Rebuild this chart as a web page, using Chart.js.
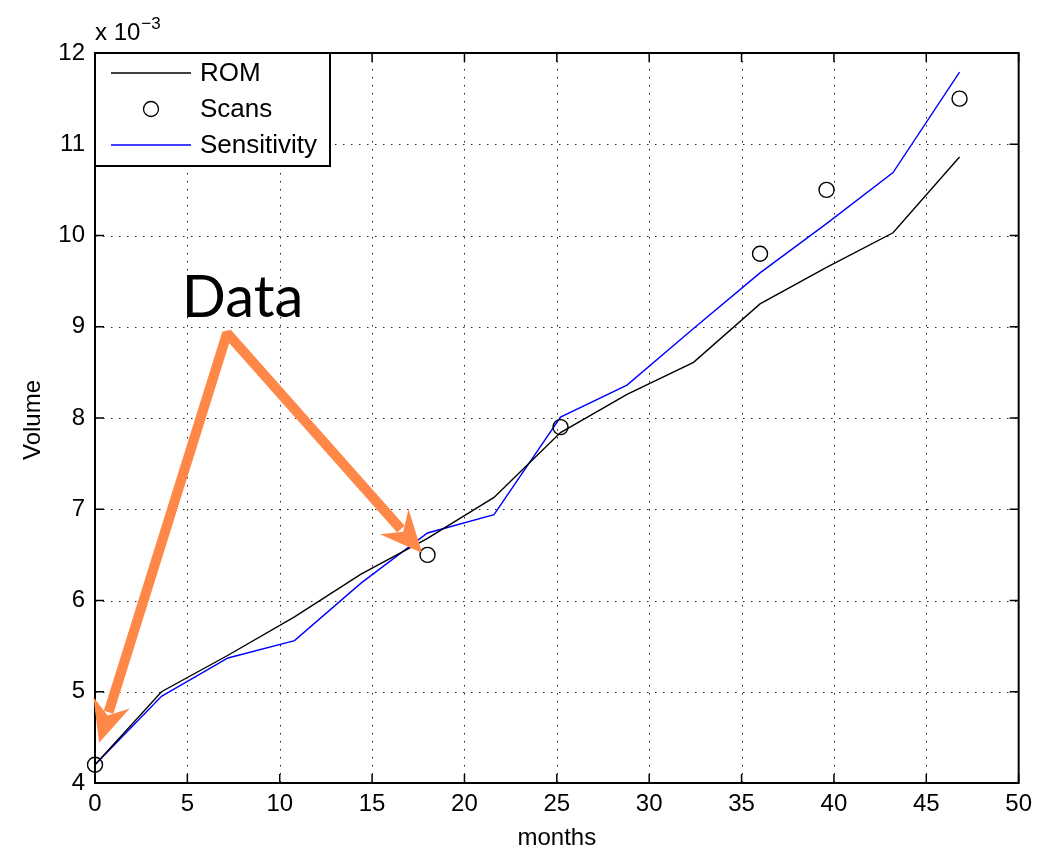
<!DOCTYPE html>
<html>
<head>
<meta charset="utf-8">
<title>Volume vs months</title>
<script src="https://cdn.jsdelivr.net/npm/chart.js@4.4.1/dist/chart.umd.min.js"></script>
<style>
  html, body { margin: 0; padding: 0; background: #fff; }
  #wrap { width: 1039px; height: 851px; }
</style>
</head>
<body>
<div id="wrap"><canvas id="chart" width="1039" height="851"></canvas></div>
<script>
// Volumes are in units of 10^-3 (the axis carries the "x 10^-3" multiplier)
const months = [0, 3.6, 7.2, 10.8, 14.4, 18, 21.6, 25.2, 28.8, 32.4, 36, 39.6, 43.2, 46.8];
const romVolume = [4.2, 5.0, 5.40, 5.82, 6.29, 6.68, 7.13, 7.84, 8.26, 8.61, 9.25, 9.65, 10.03, 10.86];
const sensitivityVolume = [4.2, 4.95, 5.37, 5.56, 6.19, 6.74, 6.94, 8.01, 8.36, 8.98, 9.59, 10.13, 10.69, 11.79];
const scanMonths = [0, 18, 25.2, 36, 39.6, 46.8];
const scanVolume = [4.2, 6.5, 7.9, 9.8, 10.5, 11.5];

const xTicks = [0, 5, 10, 15, 20, 25, 30, 35, 40, 45, 50];
const yTicks = [4, 5, 6, 7, 8, 9, 10, 11, 12];

// "Data" callout: label anchor, arrow apex and the two arrow tips (data coords)
const calloutText = 'Data';
const calloutLabel = { x: 4.7, y: 9.11 };
const calloutApex = { x: 7.15, y: 8.93 };
const calloutTips = [{ x: 0.22, y: 4.44 }, { x: 17.71, y: 6.52 }];

const FONT = '"Liberation Sans", Arial, Helvetica, sans-serif';
const ORANGE = '#ff8848';

const toPoints = (xs, ys) => xs.map((x, i) => ({ x: x, y: ys[i] }));

// grid, box and inward ticks
const framePlugin = {
  id: 'frame',
  beforeDatasetsDraw(chart) {
    const { ctx, chartArea: a, scales: { x, y } } = chart;
    ctx.save();
    ctx.strokeStyle = '#222';
    ctx.lineWidth = 1;
    ctx.setLineDash([1.5, 6.5]);
    xTicks.forEach(t => {
      if (t === xTicks[0] || t === xTicks[xTicks.length - 1]) return;
      const px = Math.round(x.getPixelForValue(t)) + 0.5;
      ctx.beginPath(); ctx.moveTo(px, a.top); ctx.lineTo(px, a.bottom); ctx.stroke();
    });
    yTicks.forEach(t => {
      if (t === yTicks[0] || t === yTicks[yTicks.length - 1]) return;
      const py = Math.round(y.getPixelForValue(t)) + 0.5;
      ctx.beginPath(); ctx.moveTo(a.left, py); ctx.lineTo(a.right, py); ctx.stroke();
    });
    ctx.restore();
  },
  afterDatasetsDraw(chart) {
    const { ctx, chartArea: a, scales: { x, y } } = chart;
    const len = 9;
    ctx.save();
    ctx.strokeStyle = '#000';
    ctx.lineWidth = 1.5;
    xTicks.forEach(t => {
      const px = x.getPixelForValue(t);
      ctx.beginPath();
      ctx.moveTo(px, a.bottom); ctx.lineTo(px, a.bottom - len);
      ctx.moveTo(px, a.top); ctx.lineTo(px, a.top + len);
      ctx.stroke();
    });
    yTicks.forEach(t => {
      const py = y.getPixelForValue(t);
      ctx.beginPath();
      ctx.moveTo(a.left, py); ctx.lineTo(a.left + len, py);
      ctx.moveTo(a.right, py); ctx.lineTo(a.right - len, py);
      ctx.stroke();
    });
    ctx.lineWidth = 2;
    ctx.strokeRect(a.left, a.top, a.right - a.left, a.bottom - a.top);
    ctx.restore();
  }
};

// legend box, axis titles, exponent label and the orange callout
const overlayPlugin = {
  id: 'overlay',
  afterDraw(chart) {
    const { ctx, chartArea: a, scales: { x, y } } = chart;
    ctx.save();

    // legend
    const lx = a.left, ly = a.top, lw = 235, lh = 113;
    ctx.fillStyle = '#fff';
    ctx.fillRect(lx, ly, lw, lh);
    ctx.strokeStyle = '#000';
    ctx.lineWidth = 2;
    ctx.strokeRect(lx, ly, lw, lh);
    const rows = [
      { label: 'ROM', kind: 'line', color: '#000' },
      { label: 'Scans', kind: 'circle', color: '#000' },
      { label: 'Sensitivity', kind: 'line', color: '#0000ff' }
    ];
    ctx.font = '26px ' + FONT;
    ctx.textBaseline = 'middle';
    ctx.textAlign = 'left';
    rows.forEach((r, i) => {
      const ry = ly + 20 + i * 36;
      ctx.strokeStyle = r.color;
      ctx.lineWidth = 1.3;
      if (r.kind === 'line') {
        ctx.beginPath(); ctx.moveTo(lx + 16, ry); ctx.lineTo(lx + 96, ry); ctx.stroke();
      } else {
        ctx.beginPath(); ctx.arc(lx + 56, ry, 7.5, 0, Math.PI * 2); ctx.stroke();
      }
      ctx.fillStyle = '#000';
      ctx.fillText(r.label, lx + 105, ry + 1);
    });

    // axis titles
    ctx.fillStyle = '#000';
    ctx.font = '24px ' + FONT;
    ctx.textAlign = 'center';
    ctx.textBaseline = 'middle';
    ctx.fillText('months', (a.left + a.right) / 2, 838);
    ctx.save();
    ctx.translate(33, 420);
    ctx.rotate(-Math.PI / 2);
    ctx.fillText('Volume', 0, 0);
    ctx.restore();

    // exponent multiplier
    ctx.textAlign = 'left';
    ctx.textBaseline = 'alphabetic';
    ctx.font = '24px ' + FONT;
    ctx.fillText('x 10', a.left, 40);
    const w = ctx.measureText('x 10').width;
    ctx.font = '17px ' + FONT;
    ctx.fillText('\u22123', a.left + w + 1, 29);

    // callout arrows
    const apex = { x: x.getPixelForValue(calloutApex.x), y: y.getPixelForValue(calloutApex.y) };
    const headLen = 42, headHalf = 19;
    const tips = calloutTips.map(t => {
      const tx = x.getPixelForValue(t.x), ty = y.getPixelForValue(t.y);
      const dx = tx - apex.x, dy = ty - apex.y;
      const d = Math.hypot(dx, dy);
      return { tx, ty, ux: dx / d, uy: dy / d };
    });
    ctx.strokeStyle = ORANGE;
    ctx.fillStyle = ORANGE;
    ctx.lineWidth = 10;
    ctx.lineJoin = 'bevel';
    ctx.beginPath();
    ctx.moveTo(tips[0].tx - tips[0].ux * (headLen - 10), tips[0].ty - tips[0].uy * (headLen - 10));
    ctx.lineTo(apex.x, apex.y);
    ctx.lineTo(tips[1].tx - tips[1].ux * (headLen - 10), tips[1].ty - tips[1].uy * (headLen - 10));
    ctx.stroke();
    tips.forEach(t => {
      const bx = t.tx - t.ux * headLen, by = t.ty - t.uy * headLen;
      const nx = t.tx - t.ux * headLen * 0.68, ny = t.ty - t.uy * headLen * 0.68;
      ctx.beginPath();
      ctx.moveTo(t.tx, t.ty);
      ctx.lineTo(bx - t.uy * headHalf, by + t.ux * headHalf);
      ctx.lineTo(nx, ny);
      ctx.lineTo(bx + t.uy * headHalf, by - t.ux * headHalf);
      ctx.closePath();
      ctx.fill();
    });

    // callout label
    ctx.fillStyle = '#000';
    ctx.font = '58px "Lato", "Open Sans", sans-serif';
    ctx.textAlign = 'left';
    ctx.textBaseline = 'alphabetic';
    ctx.fillText(calloutText, x.getPixelForValue(calloutLabel.x), y.getPixelForValue(calloutLabel.y));

    ctx.restore();
  }
};

const ctx = document.getElementById('chart').getContext('2d');
new Chart(ctx, {
  type: 'scatter',
  data: {
    datasets: [
      {
        label: 'ROM',
        data: toPoints(months, romVolume),
        showLine: true,
        borderColor: '#000',
        borderWidth: 1.4,
        pointRadius: 0,
        fill: false
      },
      {
        label: 'Scans',
        data: toPoints(scanMonths, scanVolume),
        showLine: false,
        pointStyle: 'circle',
        pointRadius: 7.5,
        pointBorderWidth: 1.4,
        pointBorderColor: '#000',
        pointBackgroundColor: 'rgba(0,0,0,0)',
        clip: false
      },
      {
        label: 'Sensitivity',
        data: toPoints(months, sensitivityVolume),
        showLine: true,
        borderColor: '#0000ff',
        borderWidth: 1.4,
        pointRadius: 0,
        fill: false
      }
    ]
  },
  options: {
    responsive: false,
    animation: false,
    layout: { padding: { top: 53, right: 16, left: 0, bottom: 0 } },
    plugins: {
      legend: { display: false },
      tooltip: { enabled: false }
    },
    scales: {
      x: {
        type: 'linear',
        min: 0,
        max: 50,
        afterFit: s => { s.height = 68; },
        afterBuildTicks: s => { s.ticks = xTicks.map(v => ({ value: v })); },
        grid: { display: false, drawTicks: false },
        border: { display: false },
        ticks: { color: '#000', font: { family: FONT, size: 24 }, padding: 7, maxRotation: 0 }
      },
      y: {
        type: 'linear',
        min: 4,
        max: 12,
        afterFit: s => { s.width = 95; },
        afterBuildTicks: s => { s.ticks = yTicks.map(v => ({ value: v })); },
        grid: { display: false, drawTicks: false },
        border: { display: false },
        ticks: { color: '#000', font: { family: FONT, size: 24 }, padding: 10 }
      }
    }
  },
  plugins: [framePlugin, overlayPlugin]
});
</script>
</body>
</html>
